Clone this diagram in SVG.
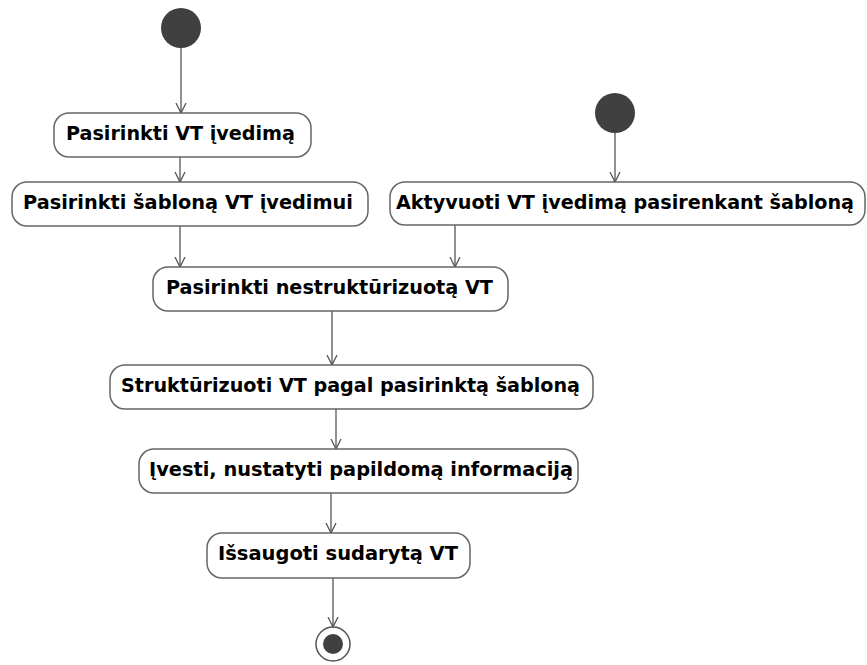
<svg xmlns="http://www.w3.org/2000/svg" width="867" height="665" viewBox="0 0 867 665">
  <style>
    .action rect { fill: #ffffff; stroke: #666666; stroke-width: 1.5; }
    .action text { font-family: "DejaVu Sans", "Liberation Sans", sans-serif; font-weight: bold; font-size: 19px; fill: #000000; }
    .start circle { fill: #404040; }
    .flow line { stroke: #555555; stroke-width: 1.3; fill: none; marker-end: url(#open-arrow); }
  </style>
  <defs>
    <marker id="open-arrow" markerUnits="userSpaceOnUse" markerWidth="12" markerHeight="12" refX="10" refY="5" orient="auto" viewBox="0 0 12 10">
      <path d="M0,0 L10,5 L0,10" fill="none" stroke="#555555" stroke-width="1.3"/>
    </marker>
  </defs>
  <rect width="867" height="665" fill="#ffffff"/>

  <!-- control flows -->
  <g id="flows" class="flow">
    <line x1="181" y1="48" x2="181" y2="113"/>
    <line x1="180" y1="157" x2="180" y2="182"/>
    <line x1="615" y1="133" x2="615" y2="182"/>
    <line x1="180" y1="226" x2="180" y2="267"/>
    <line x1="455" y1="225" x2="455" y2="267"/>
    <line x1="332" y1="311" x2="332" y2="365"/>
    <line x1="336" y1="409" x2="336" y2="449"/>
    <line x1="331" y1="493" x2="331" y2="533"/>
    <line x1="333" y1="578" x2="333" y2="627"/>
  </g>

  <!-- initial nodes -->
  <g id="start-1" class="start"><circle cx="181" cy="28" r="20"/></g>
  <g id="start-2" class="start"><circle cx="615" cy="113" r="20"/></g>

  <!-- actions -->
  <g id="pasirinkti-vt-ivedima" class="action">
    <rect x="54" y="113" width="257" height="44" rx="15" ry="15"/>
    <text x="66" y="140" textLength="229" lengthAdjust="spacingAndGlyphs">Pasirinkti VT įvedimą</text>
  </g>
  <g id="pasirinkti-sablona" class="action">
    <rect x="12" y="182" width="356" height="44" rx="15" ry="15"/>
    <text x="23" y="209" textLength="330" lengthAdjust="spacingAndGlyphs">Pasirinkti šabloną VT įvedimui</text>
  </g>
  <g id="aktyvuoti-ivedima" class="action">
    <rect x="390" y="182" width="475" height="43" rx="15" ry="15"/>
    <text x="396" y="209" textLength="458" lengthAdjust="spacingAndGlyphs">Aktyvuoti VT įvedimą pasirenkant šabloną</text>
  </g>
  <g id="pasirinkti-nestrukturizuota" class="action">
    <rect x="153" y="267" width="355" height="44" rx="15" ry="15"/>
    <text x="166" y="294" textLength="327" lengthAdjust="spacingAndGlyphs">Pasirinkti nestruktūrizuotą VT</text>
  </g>
  <g id="strukturizuoti" class="action">
    <rect x="110" y="365" width="483" height="44" rx="15" ry="15"/>
    <text x="121" y="392" textLength="459" lengthAdjust="spacingAndGlyphs">Struktūrizuoti VT pagal pasirinktą šabloną</text>
  </g>
  <g id="ivesti-informacija" class="action">
    <rect x="139" y="449" width="439" height="44" rx="15" ry="15"/>
    <text x="149" y="476" textLength="424" lengthAdjust="spacingAndGlyphs">Įvesti, nustatyti papildomą informaciją</text>
  </g>
  <g id="issaugoti" class="action">
    <rect x="207" y="533" width="263" height="45" rx="15" ry="15"/>
    <text x="218" y="560" textLength="240" lengthAdjust="spacingAndGlyphs">Išsaugoti sudarytą VT</text>
  </g>

  <!-- final node -->
  <g id="final">
    <circle cx="333" cy="644" r="17" fill="#ffffff" stroke="#555555" stroke-width="1.5"/>
    <circle cx="333" cy="644" r="10" fill="#404040"/>
  </g>
</svg>
